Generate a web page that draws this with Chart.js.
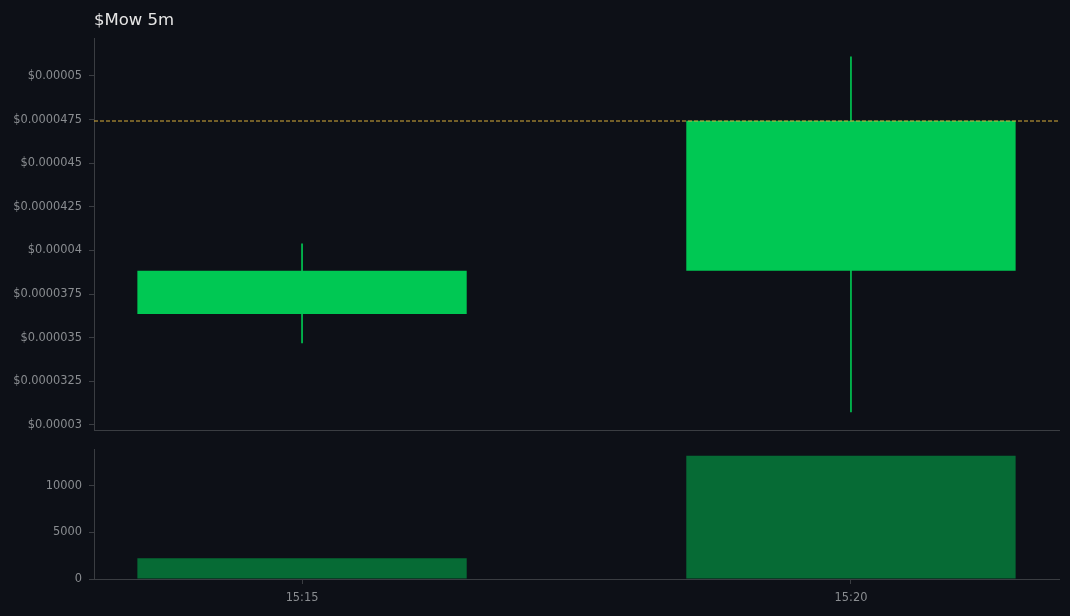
<!DOCTYPE html>
<html>
<head>
<meta charset="utf-8">
<script src="https://cdn.jsdelivr.net/npm/chart.js@4"></script>
<style>
  html, body { margin: 0; padding: 0; background: #0d1017; }
  #wrap { position: relative; width: 1070px; height: 616px; overflow: hidden; }
  #priceWrap { position: absolute; left: 0; top: 0; width: 1070px; height: 444px; }
  #volWrap { position: absolute; left: 0; top: 436px; width: 1070px; height: 180px; }
</style>
</head>
<body>
<div id="wrap">
  <div id="priceWrap"><canvas id="priceChart"></canvas></div>
  <div id="volWrap"><canvas id="volChart"></canvas></div>
</div>
<script>
// candles (x = index of 5m bar)
const times = ['15:15', '15:20'];
const opens = [0.00003636, 0.00003883];
const closes = [0.00003883, 0.00004743];
const highs = [0.00004038, 0.0000511];
const lows = [0.0000347, 0.00003075];
const volumes = [2230, 13190];
const lastPrice = 0.00004743;

const priceTicks = [0.00003, 0.0000325, 0.000035, 0.0000375, 0.00004, 0.0000425, 0.000045, 0.0000475, 0.00005];
const volTicks = [0, 5000, 10000];

const spine = '#3a3d42';
const tickCol = '#8a8d91';
const up = '#00c853';
const down = '#ff3d57';
const volUp = '#066b35';
const volDown = '#7a1f2b';

const xMin = -0.379, xMax = 1.379;
const font = { family: 'DejaVu Sans', size: 11.4 };

const isUp = opens.map((o, i) => closes[i] >= o);

const yFixed = (w) => (scale) => { scale.width = w; };

// dashed line at last price
const lastLine = {
    id: 'lastLine',
    afterDatasetsDraw(chart) {
        const { ctx, chartArea, scales } = chart;
        const y = Math.round(scales.y.getPixelForValue(lastPrice));
        ctx.save();
        ctx.strokeStyle = '#d9ad3a';
        ctx.lineWidth = 1;
        ctx.setLineDash([4, 2]);
        ctx.beginPath();
        ctx.moveTo(chartArea.left, y);
        ctx.lineTo(chartArea.right, y);
        ctx.stroke();
        ctx.restore();
    }
};

new Chart(document.getElementById('priceChart'), {
    type: 'bar',
    data: {
        datasets: [
            {
                label: 'wick',
                data: times.map((t, i) => ({ x: i, y: [lows[i], highs[i]] })),
                backgroundColor: isUp.map(u => u ? up : down),
                barThickness: 1,
                grouped: false,
                order: 2
            },
            {
                label: 'body',
                data: times.map((t, i) => ({ x: i, y: [opens[i], closes[i]] })),
                backgroundColor: isUp.map(u => u ? up : down),
                categoryPercentage: 1,
                barPercentage: 0.6,
                grouped: false,
                order: 1
            }
        ]
    },
    plugins: [lastLine],
    options: {
        responsive: true,
        maintainAspectRatio: false,
        animation: false,
        layout: { padding: { left: 0, right: 11, bottom: 7 } },
        plugins: {
            legend: { display: false },
            tooltip: { enabled: false },
            title: {
                display: true,
                text: '$Mow 5m',
                align: 'start',
                fullSize: false,
                color: '#e6e6e6',
                font: { family: 'DejaVu Sans', size: 16.5, weight: 'normal' },
                padding: { top: 11, bottom: 8 }
            }
        },
        scales: {
            x: {
                type: 'linear',
                min: xMin,
                max: xMax,
                offset: false,
                afterBuildTicks: (scale) => { scale.ticks = times.map((t, i) => ({ value: i })); },
                afterFit: (scale) => { scale.height = 0; },
                ticks: { display: false },
                grid: { display: false, offset: false },
                border: { display: true, color: spine, width: 1 }
            },
            y: {
                min: 0.0000297,
                max: 0.00005213,
                afterBuildTicks: (scale) => { scale.ticks = priceTicks.map(v => ({ value: v })); },
                afterFit: yFixed(94),
                ticks: {
                    color: tickCol,
                    font: font,
                    padding: 7,
                    callback: (v, i) => '$' + priceTicks[i]
                },
                grid: { drawOnChartArea: false, drawTicks: true, tickLength: 5, color: spine },
                border: { display: true, color: spine, width: 1 }
            }
        }
    }
});

new Chart(document.getElementById('volChart'), {
    type: 'bar',
    data: {
        datasets: [{
            label: 'volume',
            data: times.map((t, i) => ({ x: i, y: volumes[i] })),
            backgroundColor: isUp.map(u => u ? volUp : volDown),
            categoryPercentage: 1,
            barPercentage: 0.6
        }]
    },
    options: {
        responsive: true,
        maintainAspectRatio: false,
        animation: false,
        layout: { padding: { left: 0, right: 11, top: 9, bottom: 0 } },
        plugins: { legend: { display: false }, tooltip: { enabled: false } },
        scales: {
            x: {
                type: 'linear',
                min: xMin,
                max: xMax,
                offset: false,
                afterBuildTicks: (scale) => { scale.ticks = times.map((t, i) => ({ value: i })); },
                afterFit: (scale) => { scale.height = 37; },
                ticks: {
                    color: tickCol,
                    font: font,
                    padding: 7,
                    maxRotation: 0,
                    callback: (v, i) => times[i]
                },
                grid: { drawOnChartArea: false, drawTicks: true, tickLength: 5, color: spine, offset: false },
                border: { display: true, color: spine, width: 1 }
            },
            y: {
                min: 0,
                max: 13830,
                afterBuildTicks: (scale) => { scale.ticks = volTicks.map(v => ({ value: v })); },
                afterFit: yFixed(94),
                ticks: {
                    color: tickCol,
                    font: font,
                    padding: 7,
                    callback: (v, i) => String(volTicks[i])
                },
                grid: { drawOnChartArea: false, drawTicks: true, tickLength: 5, color: spine },
                border: { display: true, color: spine, width: 1 }
            }
        }
    }
});
</script>
</body>
</html>
